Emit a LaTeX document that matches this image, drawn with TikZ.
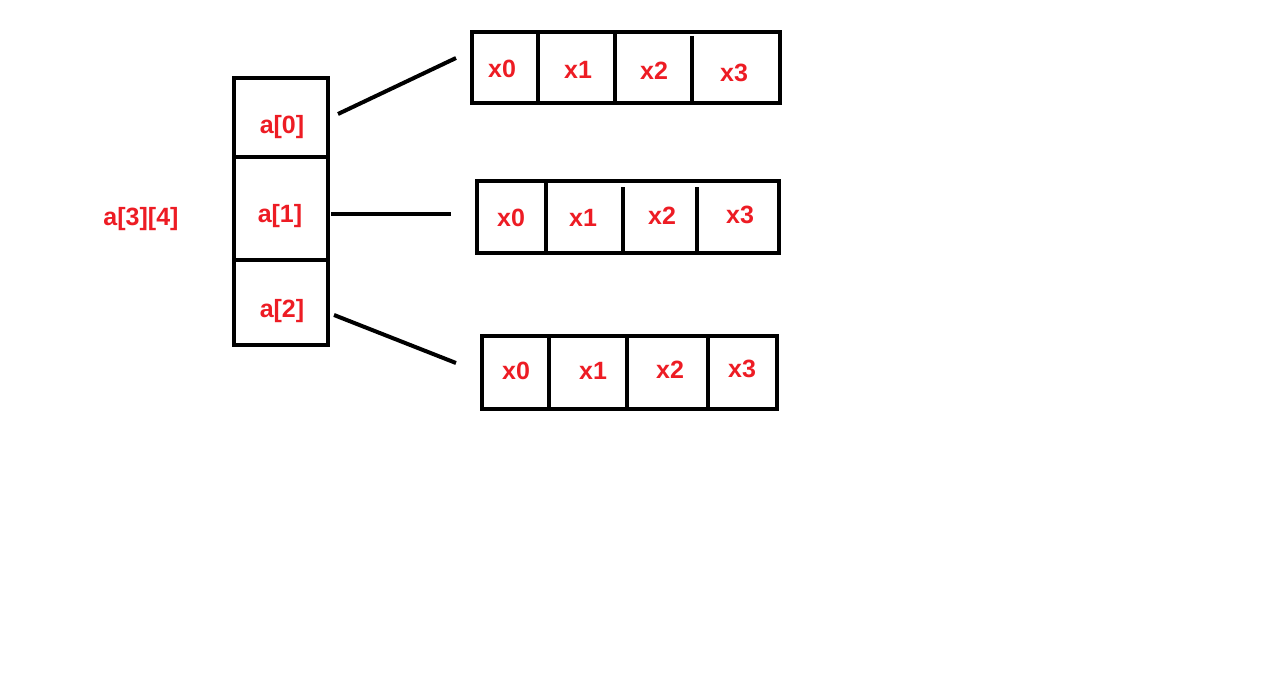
\documentclass[tikz,border=0pt]{standalone}
\usepackage{fontspec}
\setmainfont{Liberation Sans}
\usepackage{tikz}
\definecolor{paintred}{RGB}{237,28,36}

\begin{document}
\begin{tikzpicture}[x=1pt,y=-1pt,line width=4pt,
	lbl/.style={text=paintred,font=\fontsize{25}{25}\selectfont\bfseries,inner sep=0pt},
	idx/.style={lbl,yshift=-2pt}]
\useasboundingbox (0,0) rectangle (1280,677);
% the row pointers
\draw (234,78) rectangle (328,345);
\draw (234,157) -- (328,157);
\draw (234,260) -- (328,260);
\node[idx] (a0) at (282,125) {a[0]};
\node[idx] (a1) at (280,214) {a[1]};
\node[idx] (a2) at (282,309) {a[2]};
\node[idx] (arr) at (141,217) {a[3][4]};
% row 0
\draw (472,32) rectangle (780,103);
\draw (538,32) -- (538,103);
\draw (615,32) -- (615,105);
\draw (692,36) -- (692,103);
\node[lbl] (r0x0) at (502,69) {x0};
\node[lbl] (r0x1) at (578,70) {x1};
\node[lbl] (r0x2) at (654,71) {x2};
\node[lbl] (r0x3) at (734,73) {x3};
% row 1
\draw (477,181) rectangle (779,253);
\draw (546,183) -- (546,253);
\draw (623,187) -- (623,253);
\draw (697,187) -- (697,253);
\node[lbl] (r1x0) at (511,218) {x0};
\node[lbl] (r1x1) at (583,218) {x1};
\node[lbl] (r1x2) at (662,216) {x2};
\node[lbl] (r1x3) at (740,215) {x3};
% row 2
\draw (482,336) rectangle (777,409);
\draw (549,338) -- (549,411);
\draw (627,338) -- (627,411);
\draw (708,338) -- (708,411);
\node[lbl] (r2x0) at (516,371) {x0};
\node[lbl] (r2x1) at (593,371) {x1};
\node[lbl] (r2x2) at (670,370) {x2};
\node[lbl] (r2x3) at (742,369) {x3};
% pointer lines
\coordinate (p0) at (338,114);
\coordinate (q0) at (456,58);
\coordinate (p1) at (331,214);
\coordinate (q1) at (451,214);
\coordinate (p2) at (334,315);
\coordinate (q2) at (456,363);
\draw (p0) -- (q0);
\draw (p1) -- (q1);
\draw (p2) -- (q2);
\end{tikzpicture}
\end{document}
